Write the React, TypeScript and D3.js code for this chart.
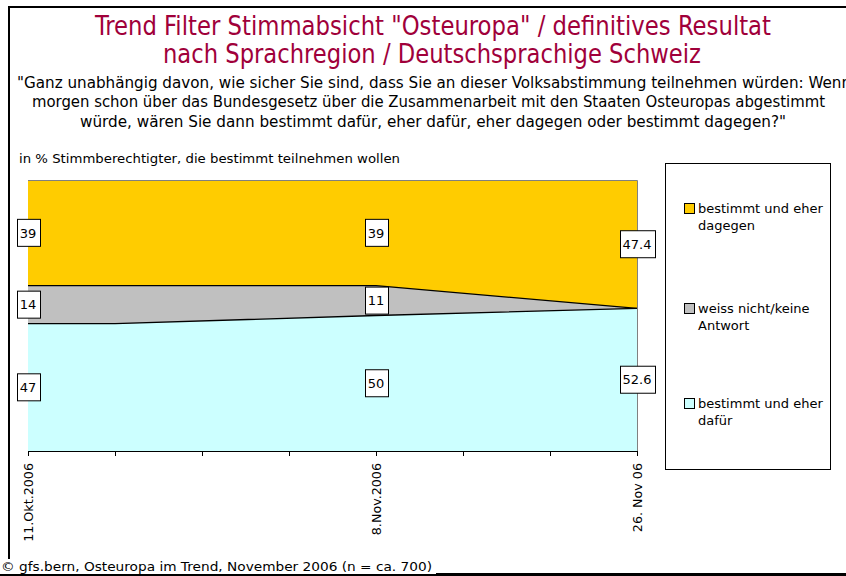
import React, { useRef, useEffect } from 'react';
import * as d3 from 'd3';

// category slots on the x axis (weekly grid), labels only on survey waves
const tickLabels = ['11.Okt.2006', '', '', '', '8.Nov.2006', '', '', '26. Nov 06'];
const slots = [0, 1, 4, 7];
const showLabel = [true, false, true, true];
const dafuer = [47, 47, 50, 52.6];
const weissNicht = [14, 14, 11, 0];
const dagegen = [39, 39, 39, 47.4];

const seriesKeys = ['dafuer', 'weiss', 'dagegen'];
const seriesNames = ['bestimmt und eher dafür', 'weiss nicht/keine Antwort', 'bestimmt und eher dagegen'];
const seriesColors = ['#CCFFFF', '#C0C0C0', '#FFCC00'];

const titleLines = [
  'Trend Filter Stimmabsicht "Osteuropa" / definitives Resultat',
  'nach Sprachregion / Deutschsprachige Schweiz',
];
const questionLines = [
  '"Ganz unabhängig davon, wie sicher Sie sind, dass Sie an dieser Volksabstimmung teilnehmen würden: Wenn',
  'morgen schon über das Bundesgesetz über die Zusammenarbeit mit den Staaten Osteuropas abgestimmt',
  'würde, wären Sie dann bestimmt dafür, eher dafür, eher dagegen oder bestimmt dagegen?"',
];

const App: React.FC = () => {
  const svgRef = useRef<SVGSVGElement>(null);

  useEffect(() => {
    if (!svgRef.current) return;
    const width = 846;
    const height = 576;
    const plot = { left: 28, right: 637, top: 180, bottom: 451 };
    const font = '"DejaVu Sans", Verdana, sans-serif';

    const svg = d3.select(svgRef.current)
      .attr('width', width)
      .attr('height', height)
      .attr('viewBox', [0, 0, width, height]);
    svg.selectAll('*').remove();

    svg.append('rect').attr('width', width).attr('height', height).attr('fill', '#fff');

    // outer frame
    svg.append('rect')
      .attr('x', 9).attr('y', 7).attr('width', 900).attr('height', 567)
      .attr('fill', 'none').attr('stroke', '#000').attr('stroke-width', 2);

    // title
    const titleX = [95, 163];
    const titleLen = [676, 538];
    const titleY = [35, 63];
    titleLines.forEach((t, i) => {
      svg.append('text')
        .attr('x', titleX[i]).attr('y', titleY[i])
        .attr('textLength', titleLen[i]).attr('lengthAdjust', 'spacingAndGlyphs')
        .attr('font-family', '"DejaVu Sans Condensed", "DejaVu Sans", sans-serif')
        .attr('font-size', 26)
        .attr('fill', '#A0003A')
        .text(t);
    });

    const qX = [17, 32, 80];
    const qLen = [834, 793, 706];
    const qY = [88, 107, 127];
    questionLines.forEach((t, i) => {
      svg.append('text')
        .attr('x', qX[i]).attr('y', qY[i])
        .attr('textLength', qLen[i]).attr('lengthAdjust', 'spacingAndGlyphs')
        .attr('font-family', '"DejaVu Sans Condensed", "DejaVu Sans", sans-serif')
        .attr('font-size', 16)
        .attr('fill', '#000')
        .text(t);
    });

    svg.append('text')
      .attr('x', 19).attr('y', 163)
      .attr('textLength', 381).attr('lengthAdjust', 'spacingAndGlyphs')
      .attr('font-family', font).attr('font-size', 12.5)
      .text('in % Stimmberechtigter, die bestimmt teilnehmen wollen');

    const x = d3.scaleLinear().domain([0, tickLabels.length - 1]).range([plot.left, plot.right]);
    const y = d3.scaleLinear().domain([0, 100]).range([plot.bottom, plot.top]);

    const table = slots.map((s, i) => ({ slot: s, dafuer: dafuer[i], weiss: weissNicht[i], dagegen: dagegen[i] }));
    const stacked = d3.stack<any>().keys(seriesKeys)(table);

    const area = d3.area<any>()
      .x(d => x(d.data.slot))
      .y0(d => y(d[0]))
      .y1(d => y(d[1]));
    const topLine = d3.line<any>()
      .x(d => x(d.data.slot))
      .y(d => y(d[1]));

    svg.append('g')
      .selectAll('path')
      .data(stacked)
      .join('path')
      .attr('d', area as any)
      .attr('fill', (_, i) => seriesColors[i]);

    svg.append('g')
      .selectAll('path')
      .data(stacked.slice(0, 2))
      .join('path')
      .attr('d', topLine as any)
      .attr('fill', 'none')
      .attr('stroke', '#000')
      .attr('stroke-width', 1.3);

    // plot border top and right
    svg.append('path')
      .attr('d', `M${plot.left},${plot.top + 0.5}H${plot.right + 0.5}V${plot.bottom}`)
      .attr('fill', 'none').attr('stroke', '#808080').attr('stroke-width', 1);

    // x axis
    const axis = d3.axisBottom(x)
      .tickValues(d3.range(tickLabels.length))
      .tickSize(5)
      .tickFormat(() => '');
    const gx = svg.append('g').attr('transform', `translate(0,${plot.bottom})`).call(axis);
    gx.select('.domain').attr('stroke', '#000').attr('d', `M${plot.left},0.5H${plot.right}`);
    gx.selectAll('.tick line').attr('stroke', '#000');

    svg.append('g')
      .selectAll('text')
      .data(tickLabels.map((t, i) => ({ t, i })).filter(d => d.t))
      .join('text')
      .attr('transform', d => `translate(${x(d.i)},463) rotate(-90)`)
      .attr('dy', '0.36em')
      .attr('text-anchor', 'end')
      .attr('font-family', font)
      .attr('font-size', 12.7)
      .attr('fill', '#000')
      .text(d => d.t);

    // data labels
    const labels: { cx: number; cy: number; v: number }[] = [];
    stacked.forEach(s => {
      s.forEach((d: any, i: number) => {
        const v = d[1] - d[0];
        if (!showLabel[i] || v === 0) return;
        labels.push({ cx: x(d.data.slot), cy: (y(d[0]) + y(d[1])) / 2, v });
      });
    });
    const lg = svg.append('g')
      .selectAll('g')
      .data(labels)
      .join('g')
      .attr('transform', d => `translate(${d.cx},${d.cy})`);
    const lt = lg.append('text')
      .attr('text-anchor', 'middle')
      .attr('dy', '0.36em')
      .attr('font-family', font)
      .attr('font-size', 13)
      .attr('fill', '#000')
      .text(d => String(d.v));
    lt.each(function (this: SVGTextElement) {
      const bb = this.getBBox();
      d3.select(this.parentNode as SVGGElement).insert('rect', 'text')
        .attr('x', Math.round(bb.x - 3) + 0.5)
        .attr('y', -13.5)
        .attr('width', Math.round(bb.width + 6))
        .attr('height', 27)
        .attr('fill', '#fff')
        .attr('stroke', '#000')
        .attr('stroke-width', 1);
    });

    // legend
    svg.append('rect')
      .attr('x', 665.5).attr('y', 163.5).attr('width', 165).attr('height', 306)
      .attr('fill', '#fff').attr('stroke', '#000').attr('stroke-width', 1);
    const legendOrder = [2, 1, 0];
    const legendY = [203, 303, 398];
    legendOrder.forEach((k, j) => {
      const g = svg.append('g').attr('transform', `translate(684,${legendY[j]})`);
      g.append('rect')
        .attr('x', 0.5).attr('y', 0.5).attr('width', 10).attr('height', 10)
        .attr('fill', seriesColors[k]).attr('stroke', '#000').attr('stroke-width', 1);
      const words = seriesNames[k];
      const split = k === 1 ? ['weiss nicht/keine', 'Antwort'] : [words.split(' ').slice(0, 3).join(' '), words.split(' ').slice(3).join(' ')];
      split.forEach((line, li) => {
        g.append('text')
          .attr('x', 14).attr('y', 10 + li * 17)
          .attr('font-family', font).attr('font-size', 13)
          .attr('fill', '#000')
          .text(line);
      });
    });

    // footer
    svg.append('rect').attr('x', 0).attr('y', 559).attr('width', 436).attr('height', 15).attr('fill', '#fff');
    svg.append('line')
      .attr('x1', 0).attr('x2', width).attr('y1', 575).attr('y2', 575)
      .attr('stroke', '#000').attr('stroke-width', 2);
    svg.append('text')
      .attr('x', 1).attr('y', 571)
      .attr('textLength', 431).attr('lengthAdjust', 'spacingAndGlyphs')
      .attr('font-family', font).attr('font-size', 12.5)
      .attr('fill', '#000')
      .text('© gfs.bern, Osteuropa im Trend, November 2006 (n = ca. 700)');
  }, []);

  return <svg ref={svgRef} style={{ position: 'absolute', left: 0, top: 0, display: 'block' }} />;
};

export default App;
